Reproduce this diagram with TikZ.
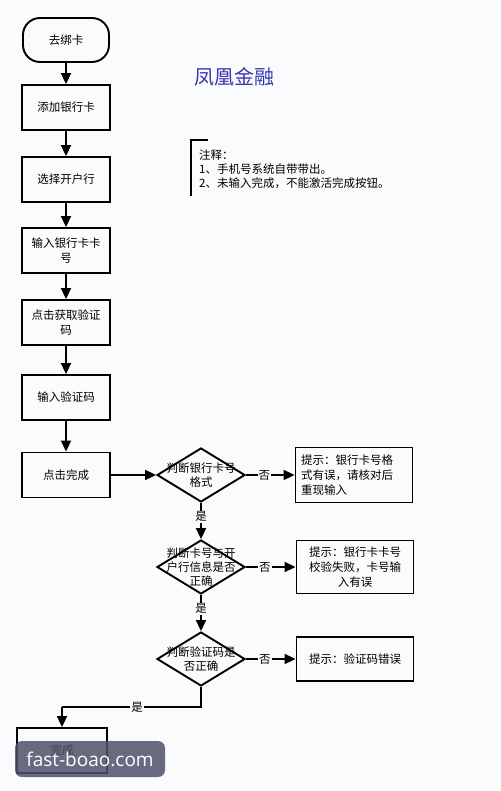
\documentclass[tikz,border=0pt]{standalone}
\usepackage{fontspec}
\newfontfamily\cjk{Noto Sans CJK SC}
\newfontfamily\wmfont{Open Sans}
\usetikzlibrary{arrows.meta,shapes.geometric}
\definecolor{bgc}{RGB}{250,251,253}
\definecolor{titleblue}{RGB}{55,55,175}
\definecolor{wm}{RGB}{80,80,105}
\begin{document}
\begin{tikzpicture}[x=1pt,y=-1pt,
  box/.style={draw, line width=1.9pt, minimum width=88pt, minimum height=45pt, inner sep=2pt, align=center, font=\cjk\fontsize{11.5}{15}\selectfont},
  dia/.style={draw, diamond, line width=1.9pt, minimum width=88pt, minimum height=54pt, inner sep=0pt},
  dtext/.style={align=center, inner sep=0pt, font=\cjk\fontsize{11.5}{14}\selectfont},
  arr/.style={line width=1.9pt, -{Triangle[length=11pt,width=10pt]}},
  lbl/.style={fill=bgc, inner sep=1pt, font=\cjk\fontsize{11.5}{14}\selectfont}]
\fill[bgc] (0,0) rectangle (500,791);
\useasboundingbox (0,0) rectangle (500,791);
% title and note
\node[text=titleblue, font=\cjk\fontsize{20}{24}\selectfont] (t) at (234,77) {凤凰金融};
\draw[line width=1.8pt] (208,140) -- (191,140) -- (191,196);
\node[anchor=north west, align=left, inner sep=0pt, font=\cjk\fontsize{11.5}{14}\selectfont] (note) at (199,150) {注释：\\1、手机号系统自带带出。\\2、未输入完成，不能激活完成按钮。};
% main column
\node[box, rounded corners=17pt, minimum width=86pt, minimum height=44pt] (s) at (66,40) {去绑卡};
\node[box] (b1) at (66,107.5) {添加银行卡};
\node[box] (b2) at (66,179.5) {选择开户行};
\node[box] (b3) at (66,250.5) {输入银行卡卡\\号};
\node[box] (b4) at (66,322.5) {点击获取验证\\码};
\node[box] (b5) at (66,397.5) {输入验证码};
\node[box] (b6) at (66,475) {点击完成};
% decisions
\node[dia] (d1) at (201,475) {};
\node[dtext] at (d1) {判断银行卡号\\格式};
\node[dia] (d2) at (201,567) {};
\node[dtext] at (d2) {判断卡号与开\\户行信息是否\\正确};
\node[dia] (d3) at (201,659) {};
\node[dtext] at (d3) {判断验证码是\\否正确};
% hints
\node[box, minimum width=117pt, minimum height=55pt, text width=106pt, align=left] (h1) at (354,475) {提示：银行卡号格\\式有误，请核对后\\重现输入};
\node[box, minimum width=117pt, minimum height=53pt] (h2) at (355,567) {提示：银行卡卡号\\校验失败，卡号输\\入有误};
\node[box, minimum width=117pt, minimum height=44pt] (h3) at (355,659) {提示：验证码错误};
\node[box, minimum width=90pt] (e) at (62,750.5) {完成};
% connectors
\draw[arr] (s) -- (b1);
\draw[arr] (b1) -- (b2);
\draw[arr] (b2) -- (b3);
\draw[arr] (b3) -- (b4);
\draw[arr] (b4) -- (b5);
\draw[arr] (b5) -- (b6);
\draw[arr] (b6) -- (d1);
\draw[arr] (d1) -- node[lbl, pos=0.38]{否} (h1);
\draw[arr] (d2) -- node[lbl, pos=0.38]{否} (h2);
\draw[arr] (d3) -- node[lbl, pos=0.38]{否} (h3);
\draw[arr] (d1) -- node[lbl, pos=0.38]{是} (d2);
\draw[arr] (d2) -- node[lbl, pos=0.38]{是} (d3);
\coordinate (k) at (201,707);
\coordinate (k2) at (62,707);
\draw[line width=1.9pt] (d3.south) -- (k) -- node[lbl, pos=0.46]{是} (k2);
\draw[arr] (k2) -- (e.north);
% watermark
\node[fill=wm, fill opacity=0.85, text opacity=1, rounded corners=7pt, minimum width=150pt, minimum height=36pt, inner sep=0pt, text=white, font=\wmfont\fontsize{19}{22}\selectfont] (wmk) at (90,759) {fast-boao.com};
\end{tikzpicture}
\end{document}
